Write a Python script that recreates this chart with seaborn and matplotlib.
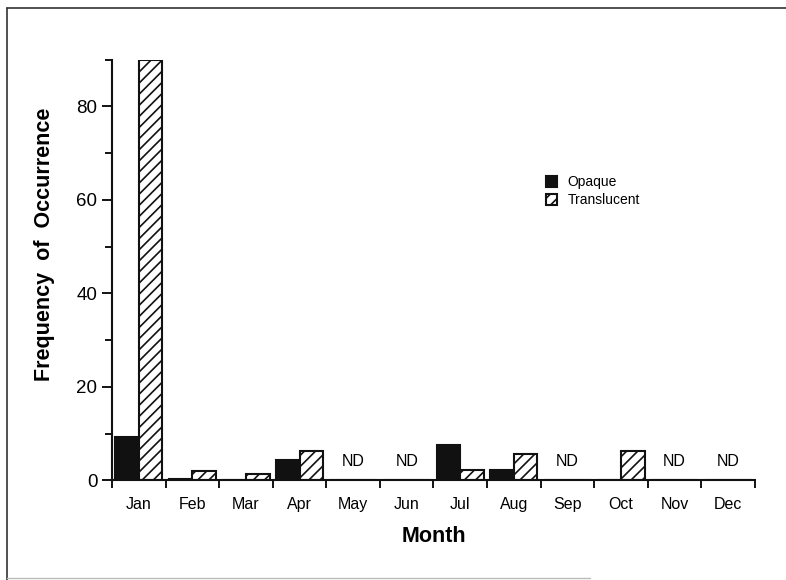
import numpy as np
import pandas as pd
import matplotlib
matplotlib.use("Agg")
import matplotlib.pyplot as plt
from matplotlib.lines import Line2D
import seaborn as sns

# monthly frequency of occurrence
months = ["Jan", "Feb", "Mar", "Apr", "May", "Jun", "Jul", "Aug", "Sep", "Oct", "Nov", "Dec"]
opaque = [9.2, 0.2, 0.0, 4.3, 0.0, 0.0, 7.5, 2.2, 0.0, 0.0, 0.0, 0.0]
translucent = [90.0, 1.9, 1.3, 6.2, 0.0, 0.0, 2.1, 5.6, 0.0, 6.3, 0.0, 0.0]
nd_months = ["May", "Jun", "Sep", "Nov", "Dec"]
types = ["Opaque", "Translucent"]

df = pd.DataFrame({
    "Month": months * 2,
    "Type": [types[0]] * 12 + [types[1]] * 12,
    "Freq": opaque + translucent,
})

sns.set_style("ticks")
plt.rcParams["font.family"] = ["Liberation Sans", "DejaVu Sans"]
plt.rcParams["hatch.linewidth"] = 1.2
plt.rcParams["text.color"] = "black"
plt.rcParams["axes.labelcolor"] = "black"
plt.rcParams["xtick.color"] = "black"
plt.rcParams["ytick.color"] = "black"

fig = plt.figure(figsize=(7.86, 5.8), dpi=100)
ax = fig.add_axes([0.1425, 0.172, 0.818, 0.725])

sns.barplot(data=df, x="Month", y="Freq", hue="Type", order=months, hue_order=types,
            palette=["#111111", "white"], edgecolor="#111111", linewidth=1.5,
            width=0.88, saturation=1, ax=ax, legend=False)

# translucent bars get the diagonal hatch
for bar in ax.containers[1]:
    bar.set_hatch("///")

# ND markers for months without data
for m in nd_months:
    ax.text(months.index(m), 4, "ND", ha="center", va="center", fontsize=11.5)

ax.set_xlim(-0.5, 11.5)
ax.set_ylim(0, 90)
ax.set_yticks([0, 20, 40, 60, 80])
ax.set_yticks(np.arange(10, 91, 20), minor=True)
ax.set_xticks(np.arange(-0.5, 12, 1), minor=True)
ax.tick_params(axis="x", which="major", length=0, pad=12, labelsize=11.5)
ax.tick_params(axis="x", which="minor", length=6, width=1.3, direction="out")
ax.tick_params(axis="y", which="major", length=7, width=1.3, labelsize=13.5)
ax.tick_params(axis="y", which="minor", length=5, width=1.3)

ax.set_xlabel("Month", fontsize=15.5, fontweight="bold", labelpad=10)
ax.set_ylabel("Frequency  of  Occurrence", fontsize=15.5, fontweight="bold")
ax.yaxis.set_label_coords(-0.089, 0.56)

for s in ["top", "right"]:
    ax.spines[s].set_visible(False)
for s in ["left", "bottom"]:
    ax.spines[s].set_linewidth(1.5)
    ax.spines[s].set_color("#111111")

handles = [ax.containers[0][0], ax.containers[1][0]]
ax.legend(handles, types, loc="upper left", bbox_to_anchor=(0.655, 0.755), frameon=False,
          fontsize=10, handlelength=0.8, handleheight=0.8, handletextpad=0.8, labelspacing=0.3)

# page frame around the scanned figure
fig.add_artist(Line2D([0.009, 0.009], [0.0, 0.986], color="#333333", lw=1.2))
fig.add_artist(Line2D([0.009, 1.0], [0.986, 0.986], color="#333333", lw=1.2))
fig.add_artist(Line2D([0.009, 0.75], [0.004, 0.004], color="#bbbbbb", lw=1.0))

fig.savefig("out.png", dpi=100)
